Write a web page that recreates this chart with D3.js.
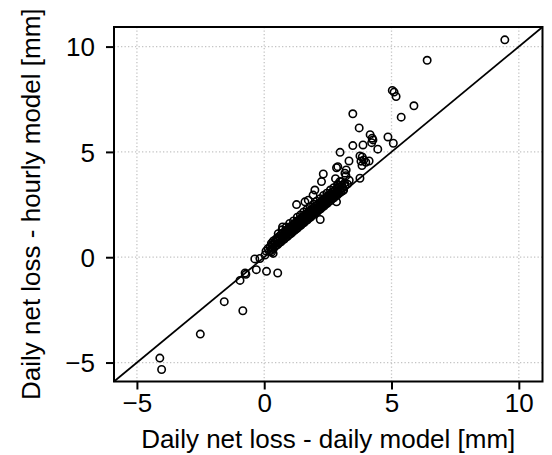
<!DOCTYPE html>
<html>
<head>
  <meta charset="utf-8">
  <script src="https://d3js.org/d3.v7.min.js"></script>
  <style>
    body { margin: 0; background: #fff; }
    text { font-family: "Liberation Sans", Arial, sans-serif; fill: #000; }
  </style>
</head>
<body>
<script>
"use strict";

// tick labels, same on both axes
var tickValues = [-5, 0, 5, 10];

// scattered points away from the main band [daily model, hourly model]
var lowPoints = [
  [-4.10, -4.79], [-4.03, -5.33], [-2.51, -3.65], [-1.57, -2.11], [-0.84, -2.54],
  [-0.95, -1.10], [-0.75, -0.75], [-0.72, -0.81], [-0.31, -0.59], [0.09, -0.67],
  [0.53, -0.75], [-0.37, -0.08], [-0.17, -0.06], [0.07, 0.29], [0.29, 0.25],
  [0.03, 0.10], [0.35, 0.18]
];

var highPoints = [
  [9.45, 10.32], [6.40, 9.35], [5.03, 7.92], [5.10, 7.84], [5.18, 7.63],
  [5.88, 7.19], [5.38, 6.65], [3.48, 6.81], [3.73, 6.14], [4.16, 5.82],
  [4.24, 5.65], [4.22, 5.44], [4.27, 5.57], [4.46, 5.13], [4.86, 5.71],
  [5.07, 5.41], [3.88, 5.33], [3.48, 5.30], [2.98, 4.98], [3.76, 4.81],
  [3.85, 4.76], [3.80, 4.56], [3.91, 4.62], [4.12, 4.57], [3.99, 4.51],
  [3.84, 4.35], [3.33, 4.57], [2.84, 4.25], [2.89, 4.30], [3.22, 4.14],
  [3.17, 3.99], [3.21, 3.87], [3.76, 3.75], [2.80, 3.73], [2.97, 3.59],
  [2.91, 3.43], [3.34, 3.65], [3.10, 3.16], [2.32, 3.95], [2.25, 3.59],
  [1.99, 3.19], [1.60, 2.63], [1.27, 2.50], [1.92, 2.95], [2.84, 2.63],
  [2.20, 1.79], [0.72, 1.44], [1.73, 2.71]
];

// dense band of points near the 1:1 line
var bandPoints = [
  [0.20, 0.28], [0.27, 0.33], [0.33, 0.41], [0.40, 0.47], [0.46, 0.55], [0.53, 0.60],
  [0.59, 0.68], [0.66, 0.73], [0.72, 0.81], [0.79, 0.86], [0.85, 0.95], [0.92, 0.99],
  [0.98, 1.08], [1.05, 1.12], [1.11, 1.20], [1.18, 1.26], [1.24, 1.33], [1.31, 1.39],
  [1.37, 1.47], [1.44, 1.52], [1.50, 1.60], [1.57, 1.65], [1.63, 1.73], [1.70, 1.78],
  [1.76, 1.86], [1.83, 1.91], [1.89, 1.99], [1.96, 2.04], [2.02, 2.12], [2.09, 2.17],
  [2.15, 2.25], [2.22, 2.30], [2.28, 2.38], [2.35, 2.43], [2.41, 2.51], [2.48, 2.56],
  [2.54, 2.64], [2.61, 2.69], [2.67, 2.77], [2.74, 2.82], [2.80, 2.90], [2.87, 2.95],
  [2.94, 3.03], [3.02, 3.10], [3.12, 3.20],
  [0.15, 0.42], [0.24, 0.50], [0.30, 0.58], [0.37, 0.62], [0.43, 0.70], [0.50, 0.77],
  [0.56, 0.82], [0.62, 0.90], [0.69, 0.96], [0.75, 1.01], [0.82, 1.09], [0.88, 1.14],
  [0.95, 1.22], [1.01, 1.28], [1.08, 1.33], [1.14, 1.41], [1.21, 1.46], [1.27, 1.54],
  [1.34, 1.60], [1.40, 1.65], [1.47, 1.73], [1.53, 1.78], [1.60, 1.86], [1.66, 1.92],
  [1.73, 1.97], [1.79, 2.05], [1.86, 2.10], [1.92, 2.18], [1.99, 2.24], [2.05, 2.29],
  [2.12, 2.37], [2.18, 2.42], [2.25, 2.50], [2.31, 2.56], [2.38, 2.61], [2.44, 2.69],
  [2.51, 2.74], [2.57, 2.82], [2.64, 2.88], [2.70, 2.93], [2.77, 3.01], [2.83, 3.06],
  [2.91, 3.15], [2.99, 3.22], [3.08, 3.31], [3.18, 3.40], [3.27, 3.47],
  [0.28, 0.66], [0.36, 0.77], [0.45, 0.84], [0.52, 0.93], [0.60, 1.00], [0.67, 1.08],
  [0.74, 1.15], [0.81, 1.22], [0.88, 1.29], [0.95, 1.36], [1.02, 1.43], [1.09, 1.50],
  [1.16, 1.57], [1.23, 1.64], [1.30, 1.71], [1.37, 1.77], [1.44, 1.85], [1.51, 1.91],
  [1.58, 1.99], [1.65, 2.05], [1.72, 2.13], [1.79, 2.19], [1.86, 2.27], [1.93, 2.33],
  [2.00, 2.41], [2.07, 2.47], [2.14, 2.55], [2.21, 2.61], [2.28, 2.69], [2.35, 2.75],
  [2.42, 2.83], [2.49, 2.89], [2.56, 2.97], [2.63, 3.03], [2.70, 3.11], [2.78, 3.17],
  [2.86, 3.26], [2.95, 3.33], [3.05, 3.42], [3.16, 3.52],
  [0.55, 1.12], [0.70, 1.30], [0.86, 1.43], [1.00, 1.60], [1.15, 1.72], [1.30, 1.90],
  [1.42, 2.00], [1.55, 2.15], [1.68, 2.27], [1.80, 2.40], [1.94, 2.52], [2.06, 2.66],
  [2.20, 2.78], [2.33, 2.93], [2.46, 3.04], [2.60, 3.19], [2.73, 3.30], [2.88, 3.45],
  [3.02, 3.58]
];

var axisRange = [-5.9, 10.93];

var width = 552, height = 455;
var plot = { left: 114, right: 542.5, top: 27, bottom: 381.5 };
var fontSize = "26px";

var svg = d3.select("body").append("svg")
  .attr("width", width)
  .attr("height", height);

var x = d3.scaleLinear().domain(axisRange).range([plot.left, plot.right]);
var y = d3.scaleLinear().domain(axisRange).range([plot.bottom, plot.top]);

// dotted grid
var grid = svg.append("g")
  .attr("stroke", "#c4c4c4")
  .attr("stroke-width", 1.3)
  .attr("stroke-dasharray", "1.3,2.2");
grid.selectAll("line.v").data(tickValues).enter().append("line")
  .attr("x1", function (d) { return x(d); })
  .attr("x2", function (d) { return x(d); })
  .attr("y1", plot.top).attr("y2", plot.bottom);
grid.selectAll("line.h").data(tickValues).enter().append("line")
  .attr("y1", function (d) { return y(d); })
  .attr("y2", function (d) { return y(d); })
  .attr("x1", plot.left).attr("x2", plot.right);

// 1:1 line
svg.append("line")
  .attr("x1", x(axisRange[0])).attr("y1", y(axisRange[0]))
  .attr("x2", x(axisRange[1])).attr("y2", y(axisRange[1]))
  .attr("stroke", "#000")
  .attr("stroke-width", 1.7);

// points
var allPoints = lowPoints.concat(bandPoints, highPoints);
svg.append("g").selectAll("circle")
  .data(allPoints)
  .enter().append("circle")
    .attr("cx", function (d) { return x(d[0]); })
    .attr("cy", function (d) { return y(d[1]); })
    .attr("r", 3.7)
    .attr("fill", "none")
    .attr("stroke", "#000")
    .attr("stroke-width", 1.6);

// box
svg.append("rect")
  .attr("x", plot.left).attr("y", plot.top)
  .attr("width", plot.right - plot.left)
  .attr("height", plot.bottom - plot.top)
  .attr("fill", "none")
  .attr("stroke", "#000")
  .attr("stroke-width", 2);

// axes
var xAxis = svg.append("g")
  .attr("transform", "translate(0," + plot.bottom + ")")
  .call(d3.axisBottom(x).tickValues(tickValues).tickSize(8).tickPadding(4).tickFormat(d3.format("d")));
var yAxis = svg.append("g")
  .attr("transform", "translate(" + plot.left + ",0)")
  .call(d3.axisLeft(y).tickValues(tickValues).tickSize(8).tickPadding(11).tickFormat(d3.format("d")));

[xAxis, yAxis].forEach(function (g) {
  g.select(".domain").remove();
  g.selectAll(".tick line").attr("stroke", "#000").attr("stroke-width", 2);
  g.selectAll("text")
    .style("font-family", "'Liberation Sans', Arial, sans-serif")
    .style("font-size", fontSize)
    .attr("fill", "#000");
});
yAxis.selectAll("text").attr("dy", "0.36em");

// axis titles
svg.append("text")
  .attr("x", (plot.left + plot.right) / 2)
  .attr("y", 448)
  .attr("text-anchor", "middle")
  .style("font-size", fontSize)
  .text("Daily net loss - daily model [mm]");

svg.append("text")
  .attr("transform", "translate(40," + ((plot.top + plot.bottom) / 2) + ") rotate(-90)")
  .attr("text-anchor", "middle")
  .style("font-size", fontSize)
  .text("Daily net loss - hourly model [mm]");
</script>
</body>
</html>
